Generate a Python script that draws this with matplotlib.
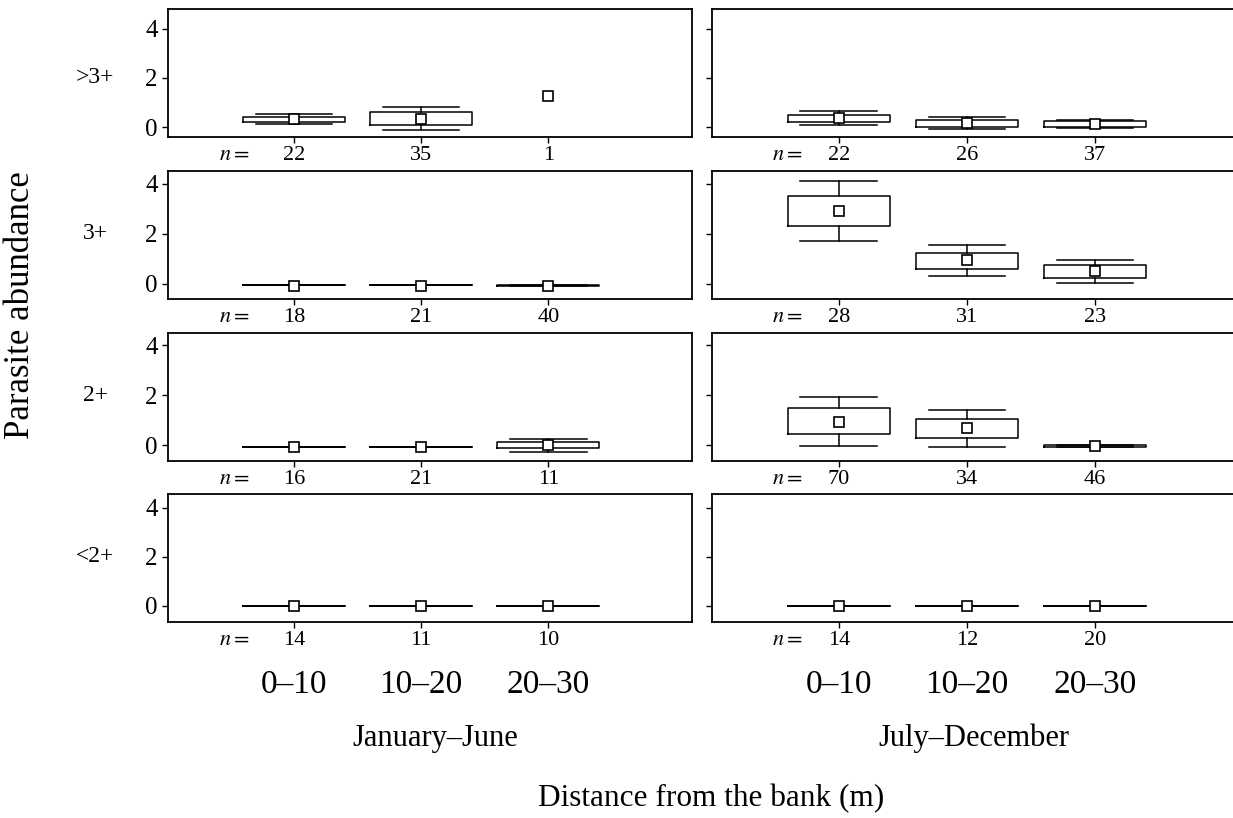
import matplotlib
matplotlib.use('Agg')
import matplotlib.pyplot as plt
from matplotlib.transforms import blended_transform_factory

plt.rcParams['font.family'] = ['Liberation Serif', 'DejaVu Serif']
plt.rcParams['mathtext.fontset'] = 'stix'

# rows top to bottom: >3+, 3+, 2+, <2+ ; columns: 0-10, 10-20, 20-30 m
age_groups = ['>3+', '3+', '2+', '<2+']
distances = ['0\u201310', '10\u201320', '20\u201330']
seasons = ['January\u2013June', 'July\u2013December']

mean_jan = [[0.34, 0.35, 1.28], [-0.07, -0.07, -0.07], [-0.07, -0.07, 0.01], [-0.02, -0.02, -0.02]]
q1_jan = [[0.20, 0.07, None], [-0.06, -0.06, -0.10], [-0.07, -0.07, -0.13], [-0.02, -0.02, -0.02]]
q3_jan = [[0.42, 0.60, None], [-0.06, -0.06, -0.04], [-0.07, -0.07, 0.12], [-0.02, -0.02, -0.02]]
lo_jan = [[0.12, -0.11, None], [-0.06, -0.06, -0.10], [-0.07, -0.07, -0.26], [-0.02, -0.02, -0.02]]
hi_jan = [[0.54, 0.82, None], [-0.06, -0.06, -0.04], [-0.07, -0.07, 0.26], [-0.02, -0.02, -0.02]]
n_jan = [[22, 35, 1], [18, 21, 40], [16, 21, 11], [14, 11, 10]]

mean_jul = [[0.38, 0.18, 0.13], [2.92, 0.94, 0.51], [0.94, 0.67, -0.02], [-0.02, -0.02, -0.02]]
q1_jul = [[0.21, 0.01, 0.01], [2.29, 0.59, 0.25], [0.44, 0.28, -0.06], [-0.02, -0.02, -0.02]]
q3_jul = [[0.50, 0.30, 0.24], [3.52, 1.25, 0.74], [1.47, 1.05, 0.01], [-0.02, -0.02, -0.02]]
lo_jul = [[0.10, -0.07, -0.05], [1.69, 0.30, 0.03], [-0.03, -0.09, -0.06], [-0.02, -0.02, -0.02]]
hi_jul = [[0.66, 0.42, 0.30], [4.11, 1.56, 0.97], [1.93, 1.42, 0.01], [-0.02, -0.02, -0.02]]
n_jul = [[22, 26, 37], [28, 31, 23], [70, 34, 46], [14, 12, 20]]

data = [(mean_jan, q1_jan, q3_jan, lo_jan, hi_jan, n_jan),
        (mean_jul, q1_jul, q3_jul, lo_jul, hi_jul, n_jul)]

fig = plt.figure(figsize=(12.33, 8.18), dpi=100)

lefts = [0.1363, 0.5775]
widths = [0.425, 0.428]
bottoms = [0.8325, 0.6345, 0.4364, 0.2396]
height = 0.1565
ylims = [(-0.4, 4.8), (-0.6, 4.5), (-0.64, 4.48), (-0.66, 4.55)]
positions = [1, 2, 3]

line = dict(linewidth=1.1, color='black')
for col in range(2):
    mean, q1, q3, lo, hi, n = data[col]
    for row in range(4):
        ax = fig.add_axes([lefts[col], bottoms[row], widths[col], height])
        stats, pos = [], []
        for k in range(3):
            if q1[row][k] is None:
                continue  # single fish: only the mean is shown
            stats.append(dict(med=mean[row][k], q1=q1[row][k], q3=q3[row][k],
                              whislo=lo[row][k], whishi=hi[row][k], fliers=[]))
            pos.append(positions[k])
        ax.bxp(stats, positions=pos, widths=0.8, capwidths=0.6, showfliers=False,
               boxprops=line, whiskerprops=line, capprops=line,
               medianprops=dict(linewidth=0))
        ax.plot(positions, mean[row], 's', ms=6.5, mfc='white', mec='black', mew=1.2, zorder=5)

        ax.set_xlim(0.01, 4.13)
        ax.set_ylim(*ylims[row])
        ax.set_yticks([0, 2, 4])
        ax.set_xticks(positions)
        ax.tick_params(axis='both', direction='out', length=4, width=1, labelsize=18)
        for sp in ax.spines.values():
            sp.set_linewidth(1.3)
        if col == 0:
            ax.set_yticklabels(['0', '2', '4'])
            trans = blended_transform_factory(ax.transAxes, ax.transData)
            ax.text(-0.139, 2, age_groups[row], transform=trans, ha='center',
                    va='center', fontsize=17)
        else:
            ax.set_yticklabels([])

        trans_n = blended_transform_factory(ax.transData, ax.transAxes)
        ax.text(0.53 if col == 0 else 0.6, -0.145, '$n =$', transform=trans_n,
                ha='center', va='center', fontsize=16)
        for k in range(3):
            ax.text(positions[k], -0.145, str(n[row][k]), transform=trans_n,
                    ha='center', va='center', fontsize=16)

        if row == 3:
            ax.set_xticklabels(distances, fontsize=24)
            ax.tick_params(axis='x', pad=30)
        else:
            ax.set_xticklabels([])

fig.text(0.353, 0.097, seasons[0], ha='center', va='center', fontsize=22)
fig.text(0.79, 0.097, seasons[1], ha='center', va='center', fontsize=22)
fig.text(0.577, 0.024, 'Distance from the bank (m)', ha='center', va='center', fontsize=22.5)
fig.text(0.017, 0.627, 'Parasite abundance', rotation=90, ha='center', va='center', fontsize=25)

fig.savefig('out.png', dpi=100)
